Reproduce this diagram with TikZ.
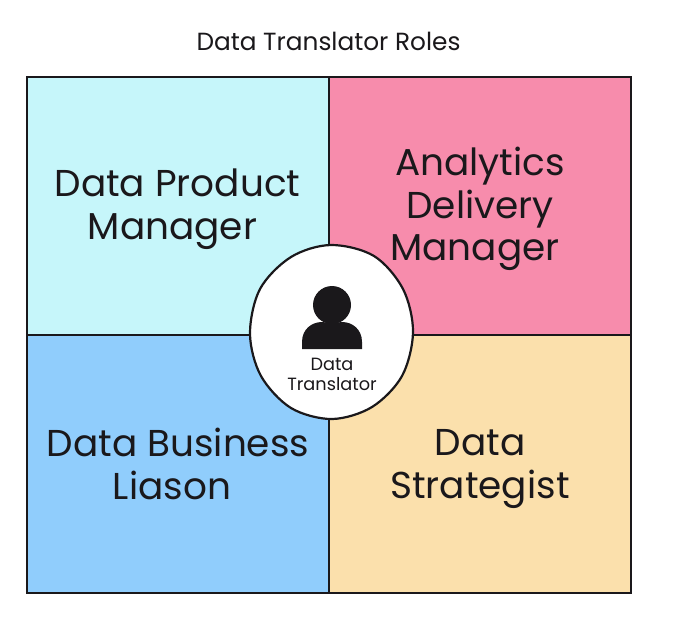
\documentclass[tikz,border=0pt]{standalone}
\usepackage{fontspec}
\usetikzlibrary{shapes.geometric}
\setmainfont{Poppins}
\definecolor{cyanq}{HTML}{C6F6FA}
\definecolor{pinkq}{HTML}{F78CAC}
\definecolor{blueq}{HTML}{90CDFC}
\definecolor{sandq}{HTML}{FBE0AC}
\definecolor{inkq}{HTML}{1A181B}
\tikzset{
  quad/.style={draw=inkq,line width=1.3pt},
  biglabel/.style={align=center,text=inkq,font=\fontsize{37.4}{42.5}\selectfont},
}
\begin{document}
\begin{tikzpicture}[x=1pt,y=-1pt]
\useasboundingbox (0,0) rectangle (674,625);
\path[fill=white] (0,0) rectangle (674,625);
\path[quad,fill=cyanq] (27,77) rectangle (329,335);
\path[quad,fill=pinkq] (329,77) rectangle (631,335);
\path[quad,fill=blueq] (27,335) rectangle (329,593);
\path[quad,fill=sandq] (329,335) rectangle (631,593);
\node[text=inkq,font=\fontsize{24.8}{28}\selectfont] (title) at (328.5,41) {Data Translator Roles};
\node[biglabel] (a) at (177.5,209) {Data Product\\Manager\hspace*{10pt}};
\node[biglabel] (b) at (480,209) {Analytics\\Delivery\\Manager\hspace*{10pt}};
\node[biglabel] (c) at (178,464) {Data Business\\Liason\hspace*{12pt}};
\node[biglabel] (d) at (480,469) {Data\\Strategist};
\node[ellipse,fill=white,minimum width=160pt,minimum height=170pt,inner sep=0pt] (center) at (332,332) {};
\draw[draw=inkq,line width=2.2pt,fill=white] plot[smooth cycle,tension=0.55] coordinates {(331,245) (374,256) (403,289) (413,332) (402,376) (372,407) (332,419) (291,408) (261,376) (250,334) (260,289) (291,257)};
\fill[inkq] (332,305) circle (19);
\fill[inkq] (302,349) -- (302,342) .. controls (302,329) and (312,322) .. (322,322) .. controls (328,323) and (336,323) .. (342,322) .. controls (352,322) and (362,329) .. (362,342) -- (362,349) -- cycle;
\node[align=center,text=inkq,font=\fontsize{17.7}{20}\selectfont] (lab) at (332,374) {Data\\Translator};
\end{tikzpicture}
\end{document}
